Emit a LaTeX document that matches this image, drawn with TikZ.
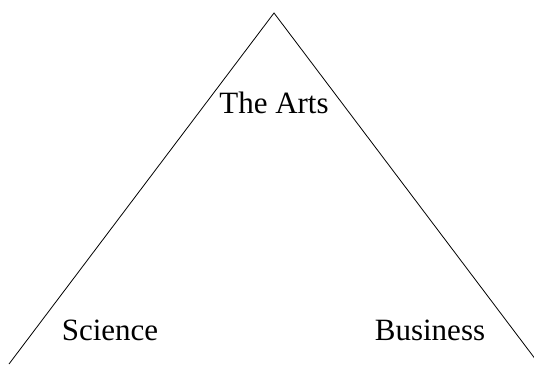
\documentclass[tikz,border=0pt]{standalone}
\usepackage{fontspec}
\setmainfont{Liberation Serif}
\begin{document}
\begin{tikzpicture}[x=1pt,y=-1pt,
  lbl/.style={font=\fontsize{31}{31}\selectfont, inner sep=0pt, anchor=base},
  edge/.style={draw=black, line width=0.8pt}]
\useasboundingbox (0,0) rectangle (534,364);
\clip (0,0) rectangle (534,364);
\coordinate (top) at (274,13);
\coordinate (bl) at (9,364);
\coordinate (br) at (539,364);
\draw[edge] (bl) -- (top) -- (br);
\node[lbl] (arts) at (274,113) {The Arts};
\node[lbl] (sci) at (110,340) {Science};
\node[lbl] (bus) at (430,340) {Business};
\end{tikzpicture}
\end{document}
